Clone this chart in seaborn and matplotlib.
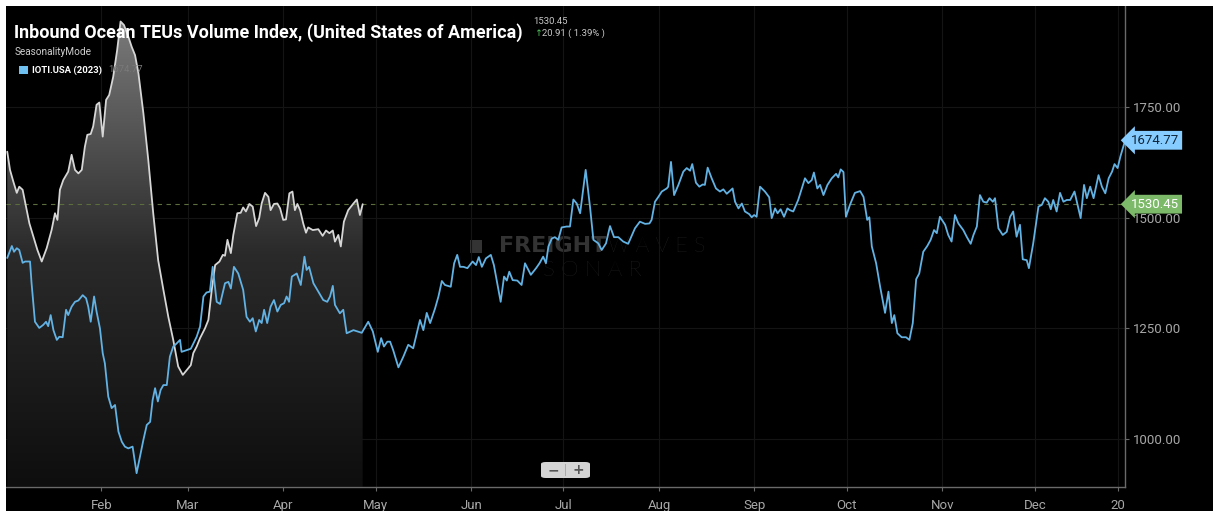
import numpy as np
import pandas as pd
import matplotlib
matplotlib.use("Agg")
import matplotlib.pyplot as plt
import matplotlib.dates as mdates
import matplotlib.transforms as mtransforms
from matplotlib.colors import LinearSegmentedColormap
from matplotlib.patches import PathPatch, FancyBboxPatch, Rectangle
import seaborn as sns

# IOTI.USA 2023 (blue), day of year and index value
blue_day = [0.4, 1.9, 2.6, 3.5, 4.3, 5.4, 6.2, 7.8, 8.3, 9.4, 10.8, 12.1, 13.0, 13.7, 14.5, 15.4,
            16.5, 17.3, 18.4, 19.5, 20.2, 21.3, 22.4, 23.5, 24.9, 26.0, 26.7, 27.5, 28.6, 29.4,
            30.5, 31.4, 32.1, 33.2, 34.3, 35.4, 36.5, 37.6, 38.6, 39.7, 41.1, 41.6, 42.4, 43.5,
            44.6, 45.7, 46.8, 47.6, 48.4, 49.3, 50.2, 51.1, 52.2, 53.2, 54.3, 55.4, 56.5, 57.0,
            58.7, 60.0, 61.9, 63.0, 64.1, 65.1, 66.2, 67.1, 68.4, 69.5, 71.1, 72.2, 73.0, 74.0,
            75.4, 77.0, 78.1, 79.2, 80.1, 81.1, 82.2, 83.0, 83.8, 84.8, 85.9, 87.0, 88.1, 89.2,
            90.3, 91.1, 91.9, 92.8, 94.4, 95.7, 96.9, 97.6, 98.4, 99.8, 101.4, 103.0, 104.3,
            105.2, 106.1, 106.8, 108.4, 109.5, 110.6, 112.8, 115.5, 117.6, 119.1, 120.7, 121.8,
            122.7, 123.8, 124.7, 125.7, 127.4, 129.0, 130.6, 132.2, 134.4, 135.5, 136.6, 137.7,
            139.3, 140.4, 141.5, 142.5, 144.4, 145.5, 146.5, 147.4, 148.5, 149.8, 151.5, 152.6,
            153.5, 154.5, 155.8, 157.4, 158.4, 159.5, 160.6, 161.7, 162.6, 163.4, 164.5, 166.0,
            167.4, 168.5, 170.4, 172.1, 173.2, 174.4, 175.3, 176.1, 177.2, 178.2, 179.3, 180.4,
            182.0, 183.1, 184.2, 185.3, 186.4, 188.2, 189.6, 190.7, 192.3, 193.4, 194.8, 196.1,
            197.4, 198.8, 200.4, 202.0, 204.2, 205.8, 207.5, 208.9, 209.6, 210.7, 211.8, 212.9,
            214.5, 215.0, 215.9, 216.9, 218.3, 219.9, 221.0, 222.1, 222.8, 224.0, 225.1, 226.2,
            226.9, 227.8, 229.1, 230.5, 231.8, 232.9, 234.0, 235.9, 236.7, 237.8, 238.9, 239.9,
            241.3, 242.1, 242.9, 243.7, 244.8, 246.4, 247.8, 248.6, 249.7, 250.5, 251.5, 252.6,
            253.7, 254.5, 255.6, 257.2, 259.4, 260.5, 261.6, 262.3, 263.4, 264.3, 265.4, 266.7,
            268.1, 269.5, 270.2, 271.0, 271.9, 272.7, 274.0, 275.6, 277.3, 278.4, 279.6, 280.3,
            281.1, 282.5, 283.8, 285.4, 286.5, 287.6, 288.4, 289.4, 290.8, 292.2, 293.3, 294.4,
            295.5, 296.5, 297.8, 299.1, 300.2, 301.3, 302.2, 303.2, 304.9, 305.9, 307.0, 308.1,
            309.2, 310.8, 311.9, 313.2, 314.1, 315.2, 316.2, 317.3, 318.4, 319.3, 320.4, 321.1,
            322.2, 323.6, 324.9, 326.0, 327.0, 328.1, 329.2, 330.1, 331.4, 332.1, 333.5, 335.2,
            336.3, 337.3, 338.4, 339.2, 340.0, 341.1, 342.2, 343.3, 344.4, 345.5, 346.9, 347.8,
            348.9, 350.0, 350.9, 352.0, 353.1, 354.7, 355.8, 356.9, 358.0, 359.1, 359.9, 360.9,
            361.8, 362.9, 363.4]
blue_val = [1409, 1436, 1423, 1431, 1427, 1398, 1401, 1401, 1352, 1265, 1251, 1258, 1265, 1255, 1280, 1246,
            1224, 1231, 1230, 1292, 1280, 1299, 1310, 1313, 1325, 1318, 1299, 1265, 1322, 1288,
            1250, 1194, 1171, 1096, 1070, 1077, 1017, 994, 983, 979, 983, 960, 923, 960,
            998, 1032, 1039, 1088, 1115, 1085, 1111, 1122, 1122, 1186, 1209, 1216, 1224, 1197,
            1201, 1204, 1231, 1254, 1322, 1331, 1333, 1389, 1310, 1305, 1352, 1355, 1340, 1389,
            1374, 1337, 1276, 1265, 1273, 1243, 1269, 1262, 1292, 1262, 1299, 1314, 1288, 1303,
            1307, 1322, 1310, 1367, 1374, 1348, 1412, 1382, 1389, 1352, 1333, 1314, 1310,
            1322, 1346, 1303, 1284, 1292, 1239, 1246, 1240, 1265, 1243, 1197, 1228,
            1209, 1220, 1220, 1201, 1162, 1186, 1213, 1205, 1269, 1246, 1285, 1262,
            1295, 1322, 1357, 1348, 1344, 1397, 1416, 1389, 1389, 1386, 1401, 1393,
            1411, 1389, 1408, 1416, 1393, 1352, 1310, 1367, 1358, 1378, 1359, 1358,
            1348, 1397, 1371, 1386, 1397, 1412, 1397, 1435, 1453, 1456, 1450, 1478,
            1480, 1480, 1541, 1532, 1510, 1608, 1525, 1450, 1442, 1427, 1442, 1481,
            1456, 1456, 1446, 1441, 1476, 1491, 1486, 1487, 1495, 1536, 1547, 1559,
            1566, 1570, 1626, 1551, 1574, 1604, 1612, 1606, 1621, 1579, 1570, 1575,
            1574, 1613, 1589, 1566, 1559, 1564, 1554, 1566, 1536, 1521, 1532, 1514,
            1508, 1501, 1506, 1502, 1570, 1559, 1546, 1499, 1521, 1510, 1519, 1502,
            1521, 1517, 1514, 1540, 1589, 1578, 1585, 1602, 1566, 1574, 1551, 1574,
            1589, 1599, 1591, 1609, 1603, 1502, 1529, 1556, 1560, 1547, 1495, 1501,
            1435, 1397, 1344, 1285, 1333, 1262, 1280, 1239, 1230, 1230, 1224, 1262,
            1361, 1374, 1423, 1436, 1450, 1472, 1465, 1502, 1484, 1461, 1446, 1506,
            1487, 1472, 1457, 1441, 1461, 1480, 1551, 1536, 1534, 1544, 1536, 1544,
            1476, 1461, 1468, 1502, 1514, 1457, 1484, 1406, 1404, 1386, 1442, 1525,
            1529, 1544, 1536, 1519, 1540, 1514, 1556, 1536, 1540, 1540, 1559, 1532,
            1499, 1574, 1544, 1570, 1544, 1596, 1570, 1555, 1589, 1604, 1621, 1612,
            1638, 1664, 1674.77]

# current year (grey area), plotted on the same seasonal axis
gray_day = [0.4, 1.3, 2.4, 3.5, 4.3, 5.4, 6.5, 7.6, 8.9, 10.2, 11.6, 13.2, 14.8, 15.9, 16.7, 17.5,
            18.6, 20.2, 21.3, 22.4, 23.5, 24.6, 25.6, 26.4, 27.5, 28.3, 29.4, 30.3, 31.4, 32.5,
            33.5, 34.8, 36.1, 37.2, 38.3, 39.7, 40.8, 41.9, 43.0, 44.6, 46.2, 47.8, 49.4, 51.1,
            52.7, 54.3, 55.9, 57.4, 58.7, 60.0, 60.8, 61.9, 63.0, 64.6, 65.7, 66.8, 67.9, 69.3,
            70.4, 71.1, 71.9, 73.0, 73.8, 75.1, 76.2, 77.0, 77.9, 79.0, 80.1, 81.2, 82.2, 83.0,
            84.1, 85.2, 85.9, 87.0, 88.1, 89.0, 90.0, 90.9, 92.0, 93.0, 93.8, 94.6, 95.5, 96.5,
            97.4, 98.1, 99.6, 101.4, 102.8, 103.9, 105.0, 106.1, 106.8, 107.9, 108.7, 109.7,
            111.1, 112.8, 113.9, 114.9, 115.8]
gray_val = [1649, 1608, 1581, 1556, 1570, 1563, 1525, 1487, 1457, 1427, 1401, 1431, 1472, 1510, 1495, 1563,
            1585, 1604, 1642, 1608, 1600, 1608, 1660, 1687, 1689, 1706, 1755, 1760, 1683, 1766,
            1777, 1818, 1879, 1943, 1935, 1909, 1886, 1867, 1826, 1736, 1630, 1510, 1404, 1337,
            1276, 1224, 1164, 1145, 1156, 1167, 1194, 1209, 1228, 1250, 1269, 1337, 1393, 1401,
            1416, 1414, 1450, 1420, 1461, 1510, 1511, 1523, 1514, 1531, 1525, 1481, 1499, 1532,
            1556, 1547, 1517, 1531, 1532, 1521, 1495, 1496, 1555, 1559, 1517, 1531, 1517, 1487,
            1466, 1478, 1472, 1474, 1459, 1471, 1465, 1471, 1446, 1461, 1435, 1491,
            1517, 1532, 1541, 1506, 1530.45]

y_ticks = [1000, 1250, 1500, 1750]
last_val = 1530.45
last_chg = 20.91
last_pct = 1.39
year_end_val = 1674.77

base = pd.Timestamp("2023-01-01")
blue = pd.DataFrame({"date": base + pd.to_timedelta(blue_day, unit="D"), "value": blue_val})
gray = pd.DataFrame({"date": base + pd.to_timedelta(gray_day, unit="D"), "value": gray_val})

sns.set_theme(style="dark")
plt.rcParams["font.family"] = ["Roboto", "DejaVu Sans"]

W, H = 1213, 511
fig = plt.figure(figsize=(W / 100, H / 100), dpi=100, facecolor="black")
ax = fig.add_axes([6 / W, (H - 486.7) / H, (1125 - 6) / W, (486.7 - 6) / H])
ax.set_facecolor("black")

# white strips at top and left of the screenshot
fig.patches.append(Rectangle((0, 1 - 6 / H), 1, 6 / H, transform=fig.transFigure,
                             facecolor="white", edgecolor="none", zorder=10))
fig.patches.append(Rectangle((0, 0), 6 / W, 1, transform=fig.transFigure,
                             facecolor="white", edgecolor="none", zorder=10))

ylo, yhi = 892.5, 1978
xlo = mdates.date2num(base)
xhi = mdates.date2num(base + pd.Timedelta(days=363.3))


def fx(px):
    return px / W


def fy(py):
    return 1 - py / H


# watermark, behind the lines
wm = "#333333"
ax.text(fx(606), fy(246), "FREIGHT", color=wm, fontsize=16, fontweight="heavy",
        va="center", ha="right", family=["DejaVu Sans"], zorder=0.5, transform=fig.transFigure)
ax.text(fx(608), fy(246), "W A V E S", color=wm, fontsize=15.5, fontweight="light",
        va="center", ha="left", family=["Lato", "DejaVu Sans"], zorder=0.5, transform=fig.transFigure)
ax.text(fx(592), fy(270), "S O N A R", color=wm, fontsize=16, fontweight="light",
        va="center", ha="center", family=["Lato", "DejaVu Sans"], zorder=0.5, transform=fig.transFigure)
ax.add_patch(Rectangle((fx(470), fy(253)), 12 / W, 13 / H, transform=fig.transFigure,
                       facecolor=wm, edgecolor="none", zorder=0.5))

# gradient fill under the grey series
poly = ax.fill_between(gray["date"], gray["value"], ylo, color="none", lw=0)
clip = PathPatch(poly.get_paths()[0], transform=ax.transData, facecolor="none", edgecolor="none")
ax.add_patch(clip)
cmap = LinearSegmentedColormap.from_list("g", ["#0e0e0e", "#2a2a2a", "#7a7a7a"])
grad = np.linspace(1, 0, 256).reshape(-1, 1)
gx0 = mdates.date2num(gray["date"].iloc[0])
gx1 = mdates.date2num(gray["date"].iloc[-1])
im = ax.imshow(grad, cmap=cmap, aspect="auto", extent=[gx0, gx1, ylo, max(gray_val)],
               origin="upper", zorder=1, vmin=0, vmax=1)
im.set_clip_path(clip)

sns.lineplot(data=gray, x="date", y="value", color="#d6d6d6", linewidth=1.3, ax=ax, zorder=3)
sns.lineplot(data=blue, x="date", y="value", color="#62b2e4", linewidth=1.3, ax=ax, zorder=4)

ax.axhline(last_val, color="#5d6e3e", lw=0.8, ls=(0, (4, 4)), zorder=2)

ax.set_xlim(xlo, xhi)
ax.set_ylim(ylo, yhi)

# axes, ticks, grid
for side in ["top", "left"]:
    ax.spines[side].set_visible(False)
for side in ["right", "bottom"]:
    ax.spines[side].set_visible(True)
    ax.spines[side].set_color("#6a6a6a")
    ax.spines[side].set_linewidth(1.0)

ax.yaxis.tick_right()
ax.set_yticks(y_ticks)
ax.set_yticklabels([f"{v:.2f}" for v in y_ticks])
month_ticks = list(pd.date_range("2023-02-01", "2023-12-01", freq="MS"))
ax.set_xticks(month_ticks + [base + pd.Timedelta(days=361)])
ax.set_xticklabels([d.strftime("%b") for d in month_ticks] + ["20"])
ax.tick_params(axis="both", colors="#6a6a6a", labelcolor="#a8a8a8", labelsize=9.5,
               length=3, width=0.8, pad=3, bottom=True, right=True)
ax.tick_params(axis="x", pad=6)
ax.grid(True, color="#141414", lw=0.8)
ax.set_xlabel("")
ax.set_ylabel("")

# price tags on the right axis
trans = mtransforms.blended_transform_factory(ax.transAxes, ax.transData)
ax.text(1 + 6 / 1119, year_end_val, f"{year_end_val:.2f}", transform=trans, ha="left", va="center",
        fontsize=9.5, color="#10263a", clip_on=False, zorder=6,
        bbox=dict(boxstyle="larrow,pad=0.22", facecolor="#86ccff", edgecolor="none"))
ax.text(1 + 6 / 1119, last_val, f"{last_val:.2f}", transform=trans, ha="left", va="center",
        fontsize=9.5, color="white", clip_on=False, zorder=6,
        bbox=dict(boxstyle="larrow,pad=0.22", facecolor="#7cb969", edgecolor="none"))

# header texts
fig.text(fx(14), fy(33), "Inbound Ocean TEUs Volume Index, (United States of America)",
         color="white", fontsize=13, fontweight="bold", va="center", ha="left")
fig.text(fx(533), fy(21), f"{last_val:.2f}", color="#c8c8c8", fontsize=6.8, va="center")
fig.text(fx(534), fy(33), "↑", color="#4cc25a", fontsize=6.8, va="center",
         family=["DejaVu Sans"])
fig.text(fx(542), fy(33), f"{last_chg:.2f} ( {last_pct:.2f}% )", color="#c8c8c8",
         fontsize=6.8, va="center")
fig.text(fx(15), fy(52), "SeasonalityMode", color="#d0d0d0", fontsize=7.2, va="center")
fig.patches.append(Rectangle((fx(19), fy(74)), 9 / W, 8 / H, transform=fig.transFigure,
                             facecolor="#6ec0f0", edgecolor="none"))
fig.text(fx(32), fy(70), "IOTI.USA (2023)", color="white", fontsize=6.8,
         fontweight="bold", va="center")
fig.text(fx(108), fy(70), f"{year_end_val:.2f}", color="#7a7a7a", fontsize=6.8, va="center")

# zoom control
fig.patches.append(FancyBboxPatch((fx(541), fy(478)), 49 / W, 16 / H, transform=fig.transFigure,
                                  boxstyle="round,pad=0,rounding_size=0.004",
                                  facecolor="#d4d4d4", edgecolor="none", zorder=8))
fig.patches.append(Rectangle((fx(565), fy(476)), 1 / W, 12 / H, transform=fig.transFigure,
                             facecolor="#aaaaaa", edgecolor="none", zorder=9))
fig.text(fx(553), fy(470), "−", color="#555555", fontsize=10, fontweight="bold",
         ha="center", va="center", zorder=9, family=["DejaVu Sans"])
fig.text(fx(578), fy(470), "+", color="#555555", fontsize=10, fontweight="bold",
         ha="center", va="center", zorder=9, family=["DejaVu Sans"])

fig.savefig("out.png", dpi=100, facecolor="black")
